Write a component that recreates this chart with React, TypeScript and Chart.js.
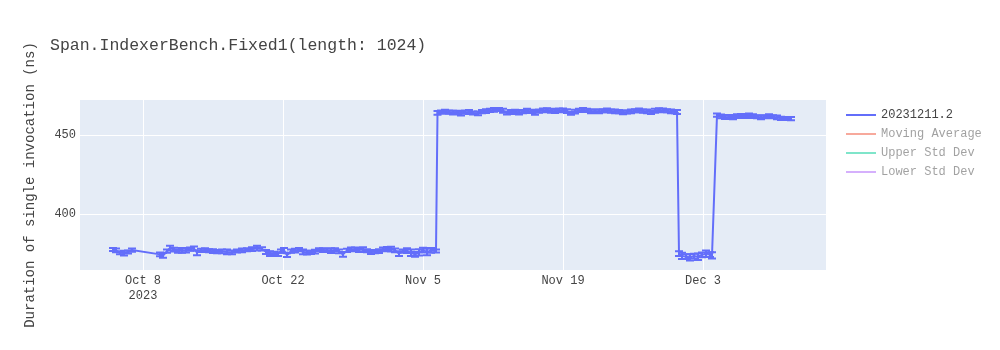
import React, { useEffect, useRef } from "react";
import { Chart, registerables } from "chart.js";

Chart.register(...registerables);

// x = days since 2023-10-08
const dayOffsets: number[] = [
  -3.0, -2.7, -2.3, -1.9, -1.5, -1.1,
  1.7, 2.0, 2.4, 2.7, 3.1, 3.5, 3.9, 4.3, 4.7, 5.1, 5.4, 5.8, 6.2, 6.6, 7.0, 7.4, 7.9, 8.4, 8.9, 9.4, 9.9,
  10.4, 10.9, 11.4, 11.9, 12.3, 12.7, 13.1, 13.5, 13.8, 14.1, 14.4, 14.8, 15.2, 15.6, 16.0, 16.4, 16.8,
  17.2, 17.6, 18.0, 18.4, 18.8, 19.2, 19.6, 20.0, 20.4, 20.8, 21.2, 21.6, 22.0, 22.4, 22.8, 23.2, 23.6,
  24.0, 24.4, 24.8, 25.2, 25.6, 26.0, 26.4, 26.8, 27.2, 27.6, 28.0, 28.4, 28.8, 29.3,
  29.45, 29.8, 30.2, 30.6, 31.0, 31.4, 31.8, 32.2, 32.6, 33.0, 33.5, 33.9, 34.3, 34.7, 35.1, 35.6, 36.0,
  36.4, 36.8, 37.2, 37.6, 38.0, 38.4, 38.8, 39.2, 39.6, 40.0, 40.4, 40.8, 41.2, 41.6, 42.0, 42.4, 42.8,
  43.2, 43.6, 44.0, 44.4, 44.8, 45.2, 45.6, 46.0, 46.4, 46.8, 47.2, 47.6, 48.0, 48.4, 48.8, 49.2, 49.6,
  50.0, 50.4, 50.8, 51.2, 51.6, 52.0, 52.4, 52.8, 53.2, 53.4,
  53.6, 53.9, 54.3, 54.7, 55.1, 55.5, 55.9, 56.3, 56.7, 56.9,
  57.4, 57.8, 58.2, 58.6, 59.0, 59.4, 59.8, 60.2, 60.6, 61.0, 61.4, 61.8, 62.2, 62.6, 63.0, 63.4, 63.8,
  64.3, 64.8,
];

const durations: number[] = [
  377.6, 377.0, 375.5, 375.3, 376.0, 377.2,
  374.5, 373.8, 376.5, 378.5, 377.5, 376.5, 377.0, 376.8, 377.8, 378.2, 375.5, 377.0, 377.2, 376.8, 376.5, 376.2, 376.4, 376.0, 375.8, 376.6, 377.0,
  377.4, 377.8, 378.5, 378.0, 376.0, 375.0, 375.2, 374.6, 376.5, 377.0, 374.0, 376.5, 376.8, 377.5, 376.0, 375.6, 375.8,
  376.2, 377.4, 377.2, 377.0, 376.8, 377.4, 376.4, 374.5, 377.0, 377.6, 377.8, 377.2, 377.5, 376.8, 376.0, 376.2, 376.5,
  377.6, 378.2, 377.8, 377.0, 375.0, 376.5, 376.8, 375.5, 374.5, 375.8, 377.2, 376.0, 377.0, 376.6,
  464.0, 464.6, 464.8, 464.5, 464.2, 464.4, 463.6, 464.5, 464.6, 464.0, 463.8, 464.8, 465.2, 465.6, 466.0, 466.2, 465.4,
  464.0, 464.6, 465.0, 464.2, 464.8, 465.4, 465.0, 464.0, 465.2, 465.6, 466.0, 465.4, 465.0, 465.6, 465.8, 465.2, 463.8,
  464.8, 465.6, 466.0, 465.6, 465.0, 465.2, 465.0, 465.4, 465.6, 465.2, 465.0, 464.8, 464.4, 464.6, 465.0, 465.4, 465.6,
  465.2, 465.0, 464.4, 465.4, 466.0, 465.6, 465.4, 465.0, 464.8, 464.6,
  375.0, 373.5, 373.0, 372.6, 373.4, 373.0, 374.2, 375.0, 374.4, 373.8,
  462.6, 461.8, 461.2, 461.5, 461.0, 462.0, 462.4, 462.0, 462.6, 462.0, 461.6, 461.2, 461.6, 462.0, 461.6, 461.2, 460.6,
  460.5, 460.4,
];

const errors: number[] = [
  1.0, 1.2, 1.0, 1.5, 1.0, 1.0,
  1.2, 1.5, 1.0, 1.5, 1.2, 1.0, 1.5, 1.2, 1.0, 1.2, 1.5, 1.0, 1.2, 1.0, 1.2, 1.0, 1.2, 1.5, 1.2, 1.0, 1.2,
  1.0, 1.2, 1.5, 1.0, 1.2, 1.5, 1.0, 1.2, 1.0, 1.5, 1.2, 1.0, 1.2, 1.0, 1.5, 1.2, 1.0,
  1.2, 1.0, 1.2, 1.0, 1.5, 1.0, 1.2, 1.5, 1.0, 1.2, 1.0, 1.2, 1.5, 1.0, 1.2, 1.0, 1.2,
  1.2, 1.0, 1.5, 1.2, 1.5, 1.0, 1.5, 2.0, 1.5, 2.0, 1.5, 2.0, 1.5, 1.0,
  1.2, 1.0, 1.2, 1.0, 1.2, 1.0, 1.2, 1.0, 1.2, 1.0, 1.2, 1.0, 1.2, 1.0, 1.2, 1.0, 1.2,
  1.0, 1.2, 1.0, 1.2, 1.0, 1.2, 1.0, 1.2, 1.0, 1.2, 1.0, 1.2, 1.0, 1.2, 1.0, 1.2, 1.0,
  1.2, 1.0, 1.2, 1.0, 1.2, 1.0, 1.2, 1.0, 1.2, 1.0, 1.2, 1.0, 1.2, 1.0, 1.2, 1.0, 1.2,
  1.0, 1.2, 1.0, 1.2, 1.0, 1.2, 1.0, 1.2, 1.0, 1.2,
  1.5, 2.0, 1.5, 2.0, 1.5, 2.0, 1.5, 2.0, 1.5, 2.0,
  1.0, 1.2, 1.0, 1.2, 1.0, 1.2, 1.0, 1.2, 1.0, 1.2, 1.0, 1.2, 1.0, 1.2, 1.0, 1.2, 1.0,
  1.0, 1.0,
];

const xTickDays: number[] = [0, 14, 28, 42, 56];
const xTickLabels: (string | string[])[] = [["Oct 8", "2023"], "Oct 22", "Nov 5", "Nov 19", "Dec 3"];
const yTickValues: number[] = [400, 450];

const legendNames: string[] = ["20231211.2", "Moving Average", "Upper Std Dev", "Lower Std Dev"];
const legendColors: string[] = ["#636efa", "#EF553B", "#00cc96", "#ab63fa"];
const legendVisible: boolean[] = [true, false, false, false];

const FONT = "'Courier New', 'Liberation Mono', monospace";

const bgPlugin = {
  id: "plotBg",
  beforeDraw(chart: any) {
    const { ctx, chartArea } = chart;
    ctx.save();
    ctx.fillStyle = "#E5ECF6";
    ctx.fillRect(chartArea.left, chartArea.top, chartArea.right - chartArea.left, chartArea.bottom - chartArea.top);
    ctx.restore();
  },
};

const errorBarPlugin = {
  id: "errorBars",
  afterDatasetsDraw(chart: any) {
    const { ctx, scales } = chart;
    const xs = scales.x;
    const ys = scales.y;
    ctx.save();
    ctx.strokeStyle = "#636efa";
    ctx.lineWidth = 2;
    for (let i = 0; i < dayOffsets.length; i++) {
      const px = xs.getPixelForValue(dayOffsets[i]);
      const top = ys.getPixelForValue(durations[i] + errors[i]);
      const bot = ys.getPixelForValue(durations[i] - errors[i]);
      ctx.beginPath();
      ctx.moveTo(px, top);
      ctx.lineTo(px, bot);
      ctx.moveTo(px - 4, top);
      ctx.lineTo(px + 4, top);
      ctx.moveTo(px - 4, bot);
      ctx.lineTo(px + 4, bot);
      ctx.stroke();
    }
    ctx.restore();
  },
};

export default function App() {
  const canvasRef = useRef<HTMLCanvasElement | null>(null);

  useEffect(() => {
    if (!canvasRef.current) return;
    const chart = new Chart(canvasRef.current, {
      type: "line",
      data: {
        datasets: [
          {
            label: legendNames[0],
            data: dayOffsets.map((d, i) => ({ x: d, y: durations[i] })),
            borderColor: "#636efa",
            backgroundColor: "#636efa",
            borderWidth: 2,
            pointRadius: 0,
            tension: 0,
          },
        ],
      },
      options: {
        animation: false,
        responsive: true,
        maintainAspectRatio: false,
        layout: { padding: { left: 0, top: 100, right: 174, bottom: 0 } },
        plugins: {
          legend: { display: false },
          tooltip: { enabled: false },
          title: { display: false },
        },
        scales: {
          x: {
            type: "linear",
            min: -6.3,
            max: 68.3,
            afterBuildTicks: (scale: any) => {
              scale.ticks = xTickDays.map((v) => ({ value: v }));
            },
            afterFit: (scale: any) => {
              scale.height = 80;
            },
            grid: { color: "#ffffff", lineWidth: 1, drawTicks: false },
            border: { display: false },
            ticks: {
              padding: 4,
              maxRotation: 0,
              autoSkip: false,
              color: "#444",
              font: { family: FONT, size: 12 },
              callback: (value: any) => {
                const idx = xTickDays.indexOf(Number(value));
                return idx >= 0 ? xTickLabels[idx] : "";
              },
            },
          },
          y: {
            type: "linear",
            min: 364.6,
            max: 472.2,
            afterBuildTicks: (scale: any) => {
              scale.ticks = yTickValues.map((v) => ({ value: v }));
            },
            afterFit: (scale: any) => {
              scale.width = 80;
            },
            grid: { color: "#ffffff", lineWidth: 1, drawTicks: false },
            border: { display: false },
            ticks: {
              padding: 4,
              color: "#444",
              font: { family: FONT, size: 12 },
            },
            title: {
              display: true,
              text: "Duration of single invocation (ns)",
              color: "#444",
              font: { family: FONT, size: 14 },
              padding: { top: 22, bottom: 0 },
            },
          },
        },
      },
      plugins: [bgPlugin, errorBarPlugin],
    } as any);
    return () => chart.destroy();
  }, []);

  return (
    <div style={{ position: "fixed", left: 0, top: 0, width: 1000, height: 350, background: "#fff" }}>
      <canvas ref={canvasRef} />
      <div
        style={{
          position: "absolute",
          left: 50,
          top: 35,
          fontFamily: FONT,
          fontSize: 16.5,
          color: "#444",
          whiteSpace: "pre",
          lineHeight: "22px",
        }}
      >
        Span.IndexerBench.Fixed1(length: 1024)
      </div>
      {legendNames.map((name, i) => (
        <div
          key={name}
          style={{
            position: "absolute",
            left: 846,
            top: 105 + i * 19,
            height: 19,
            display: "flex",
            alignItems: "center",
            opacity: legendVisible[i] ? 1 : 0.5,
          }}
        >
          <div style={{ width: 30, height: 2, background: legendColors[i] }} />
          <span
            style={{
              marginLeft: 5,
              fontFamily: FONT,
              fontSize: 12,
              color: "#444",
              whiteSpace: "pre",
            }}
          >
            {name}
          </span>
        </div>
      ))}
    </div>
  );
}
